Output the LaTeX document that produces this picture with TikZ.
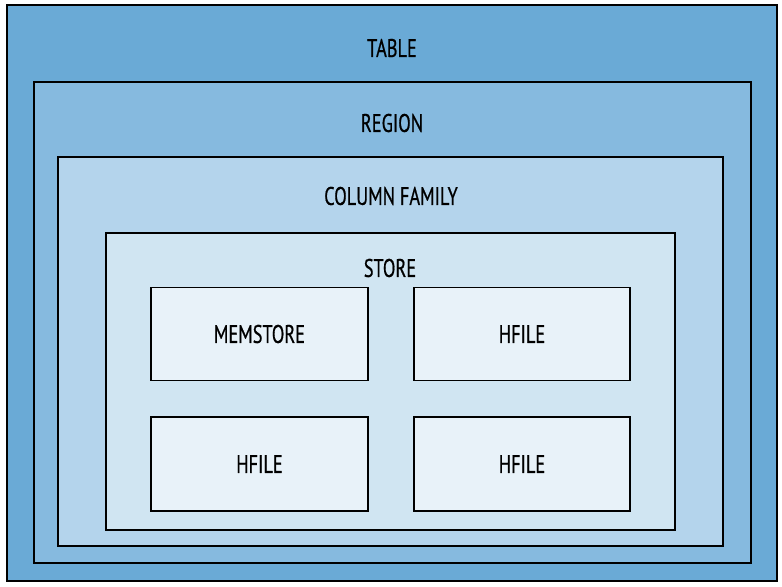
\documentclass[tikz,border=0pt]{standalone}
\usepackage{fontspec}
\setmainfont[FakeStretch=0.72, FakeBold=0.6]{PT Sans}
\usepackage{tikz}
\usetikzlibrary{positioning}
\usepackage{xcolor}

\definecolor{tablecol}{HTML}{6AAAD6}
\definecolor{regioncol}{HTML}{86BADF}
\definecolor{famcol}{HTML}{B4D4EC}
\definecolor{storecol}{HTML}{D0E5F2}
\definecolor{filecol}{HTML}{E8F2F9}

\tikzset{
  layer/.style={draw=black, line width=1.1pt, rectangle, inner sep=0pt},
  tag/.style={font=\fontsize{14.5}{16}\selectfont, text=black}
}

\begin{document}
\begin{tikzpicture}[x=0.02cm, y=-0.02cm]
  \useasboundingbox (0,0) rectangle (782,586);
  \node[layer, fill=tablecol,  minimum width=15.42cm, minimum height=11.52cm] (table)  at (392,293) {};
  \node[layer, fill=regioncol, minimum width=14.34cm, minimum height=9.62cm]  (region) at (392.5,322.5) {};
  \node[layer, fill=famcol,    minimum width=13.30cm, minimum height=7.78cm]  (fam)    at (390.5,351.5) {};
  \node[layer, fill=storecol,  minimum width=11.38cm, minimum height=5.94cm]  (store)  at (390.5,381.5) {};
  \node[layer, fill=filecol,   minimum width=4.34cm,  minimum height=1.86cm]  (mem)    at (259.5,334) {};
  \node[layer, fill=filecol,   minimum width=4.32cm,  minimum height=1.86cm]  (hf1)    at (522,334) {};
  \node[layer, fill=filecol,   minimum width=4.34cm,  minimum height=1.88cm]  (hf2)    at (259.5,464) {};
  \node[layer, fill=filecol,   minimum width=4.32cm,  minimum height=1.88cm]  (hf3)    at (522,464) {};
  \node[tag] (tabletxt)  at (392,48)  {TABLE};
  \node[tag] (regiontxt) at (392,123) {REGION};
  \node[tag] (famtxt)    at (391,196) {COLUMN FAMILY};
  \node[tag] (storetxt)  at (390,268) {STORE};
  \node[tag] at (mem) {MEMSTORE};
  \node[tag] at (hf1) {HFILE};
  \node[tag] at (hf2) {HFILE};
  \node[tag] at (hf3) {HFILE};
\end{tikzpicture}
\end{document}
